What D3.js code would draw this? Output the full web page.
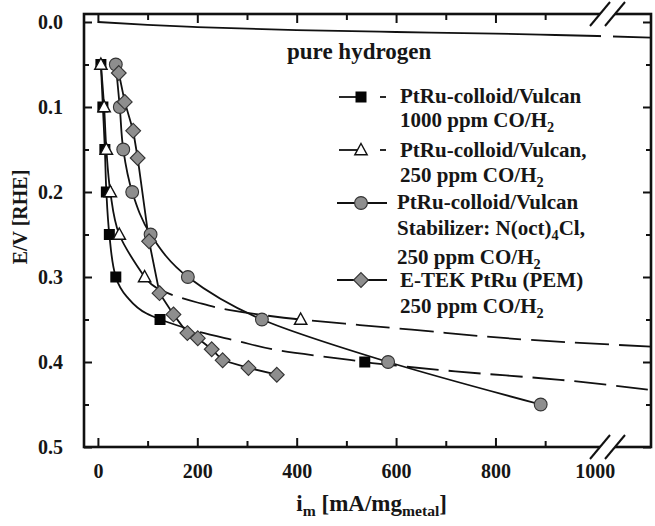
<!DOCTYPE html>
<html>
<head>
<meta charset="utf-8">
<script src="https://cdn.jsdelivr.net/npm/d3@7"></script>
<style>
body { margin: 0; background: #fff; }
svg text { font-family: "Liberation Serif", "Times New Roman", serif; font-weight: bold; fill: #161616; }
.tick line { stroke: #111; stroke-width: 2; }
</style>
</head>
<body>
<div id="chart"></div>
<script>
// i in mA/mg_metal, E in V vs RHE
var hydrogen = [[0, 0], [100, 0.0035], [200, 0.006], [400, 0.0095], [600, 0.0118], [800, 0.0137], [890, 0.0149], [1005, 0.0165], [1113, 0.0185]];

var co1000 = [[6, 0.05], [10, 0.10], [14, 0.15], [17, 0.20], [23, 0.25], [36, 0.30], [125, 0.35], [537, 0.40]];
// curve drawn through / beyond the 1000 ppm points (solid to 0.35, dashed after)
var co1000Fit = [[36, 0.30], [58, 0.323], [98, 0.343], [125, 0.35], [200, 0.364], [279, 0.375], [360, 0.386], [507, 0.3976], [537, 0.40], [719, 0.411], [930, 0.421], [1113, 0.433]];

var co250 = [[6, 0.05], [12.5, 0.10], [17, 0.15], [25, 0.20], [43, 0.25], [94, 0.30], [408, 0.35]];
var co250Fit = [[94, 0.30], [132, 0.317], [200, 0.33], [266, 0.339], [408, 0.35], [527, 0.3565], [632, 0.362], [870, 0.374], [1113, 0.382]];

var stabilized = [[36, 0.05], [44, 0.10], [51, 0.15], [69, 0.20], [106, 0.25], [181, 0.30], [330, 0.35], [584, 0.40], [891, 0.45]];

var etek = [[42, 0.06], [54, 0.094], [71, 0.128], [80, 0.16], [103, 0.258], [124, 0.319], [152, 0.344], [180, 0.366], [201, 0.372], [229, 0.385], [251, 0.398], [303, 0.407], [360, 0.415]];

var xTicks = [0, 200, 400, 600, 800, 1000];
var xMinor = [100, 300, 500, 700, 900];
var yTicks = [0.0, 0.1, 0.2, 0.3, 0.4, 0.5];
var yMinor = [0.05, 0.15, 0.25, 0.35, 0.45];

var legendLabels = [
	[["PtRu-colloid/Vulcan"], ["1000 ppm CO/H", "2"]],
	[["PtRu-colloid/Vulcan,"], ["250 ppm CO/H", "2"]],
	[["PtRu-colloid/Vulcan"], ["Stabilizer: N(oct)", "4", "Cl,"], ["250 ppm CO/H", "2"]],
	[["E-TEK PtRu (PEM)"], ["250 ppm CO/H", "2"]]
];

var W = 655, H = 526;
var pLeft = 84, pRight = 651, pTop = 14, pBottom = 447;

var svg = d3.select("#chart").append("svg")
	.attr("width", W)
	.attr("height", H);

var x = d3.scaleLinear().domain([-28, 1113]).range([pLeft, pRight]);
var y = d3.scaleLinear().domain([-0.0094, 0.5]).range([pTop, pBottom]);

// axes, ticks pointing inwards
function noDomain(g) { g.select(".domain").remove(); }

svg.append("g").attr("transform", "translate(0," + pBottom + ")")
	.call(d3.axisBottom(x).tickValues(xTicks).tickSize(-9).tickPadding(17).tickFormat(d3.format("d")))
	.call(noDomain)
	.call(function (g) {
		g.selectAll("text").attr("font-size", 20).attr("font-family", null);
		g.selectAll(".tick").filter(function (d) { return d == 1000; }).select("line").remove();
	});
svg.append("g").attr("transform", "translate(0," + pBottom + ")")
	.call(d3.axisBottom(x).tickValues(xMinor).tickSize(-6).tickFormat(""))
	.call(noDomain);
svg.append("g").attr("transform", "translate(0," + pTop + ")")
	.call(d3.axisTop(x).tickValues(xTicks.filter(function (d) { return d < 1000; })).tickSize(-9).tickFormat(""))
	.call(noDomain);
svg.append("g").attr("transform", "translate(0," + pTop + ")")
	.call(d3.axisTop(x).tickValues(xMinor).tickSize(-6).tickFormat(""))
	.call(noDomain);

svg.append("g").attr("transform", "translate(" + pLeft + ",0)")
	.call(d3.axisLeft(y).tickValues(yTicks).tickSize(-8).tickPadding(21).tickFormat(d3.format(".1f")))
	.call(noDomain)
	.call(function (g) { g.selectAll("text").attr("font-size", 20).attr("font-family", null); });
svg.append("g").attr("transform", "translate(" + pLeft + ",0)")
	.call(d3.axisLeft(y).tickValues(yMinor).tickSize(-5).tickFormat(""))
	.call(noDomain);
svg.append("g").attr("transform", "translate(" + pRight + ",0)")
	.call(d3.axisRight(y).tickValues(yTicks).tickSize(-8).tickFormat(""))
	.call(noDomain);
svg.append("g").attr("transform", "translate(" + pRight + ",0)")
	.call(d3.axisRight(y).tickValues(yMinor).tickSize(-5).tickFormat(""))
	.call(noDomain);

// frame
svg.append("rect")
	.attr("x", pLeft).attr("y", pTop)
	.attr("width", pRight - pLeft).attr("height", pBottom - pTop)
	.attr("fill", "none").attr("stroke", "#111").attr("stroke-width", 2.6);

// clip for the hydrogen line (gap at the axis break)
var defs = svg.append("defs");
var clip = defs.append("clipPath").attr("id", "hclip");
clip.append("rect").attr("x", pLeft).attr("y", pTop).attr("width", 601 - pLeft).attr("height", pBottom - pTop);
clip.append("rect").attr("x", 613).attr("y", pTop).attr("width", pRight - 613).attr("height", pBottom - pTop);

var lineX = d3.line().x(function (d) { return x(d[0]); }).y(function (d) { return y(d[1]); });
var smoothY = d3.line().x(function (d) { return x(d[0]); }).y(function (d) { return y(d[1]); }).curve(d3.curveMonotoneY);
var smoothX = d3.line().x(function (d) { return x(d[0]); }).y(function (d) { return y(d[1]); }).curve(d3.curveMonotoneX);

function addPath(d, gen, dash) {
	var p = svg.append("path")
		.attr("d", gen(d))
		.attr("fill", "none")
		.attr("stroke", "#111")
		.attr("stroke-width", 1.8);
	if (dash) p.attr("stroke-dasharray", dash);
	return p;
}

addPath(hydrogen, smoothX).attr("clip-path", "url(#hclip)");

// 1000 ppm: solid through the points down to 0.35, then dashed
addPath(co1000.slice(0, 6).concat(co1000Fit.slice(1, 4)), smoothY);
addPath(co1000Fit.slice(3), smoothY, "32,10");

// 250 ppm
addPath(co250.slice(0, 6), smoothY);
addPath(co250Fit, smoothY, "34,10");

addPath(stabilized, smoothY);
addPath(etek, lineX);

// markers
function marker(g, type, cx, cy) {
	if (type == "square") {
		g.append("rect").attr("x", cx - 5.5).attr("y", cy - 5.5).attr("width", 11).attr("height", 11)
			.attr("fill", "#050505");
	} else if (type == "triangle") {
		g.append("path").attr("d", "M" + cx + "," + (cy - 6.5) + "L" + (cx + 6.2) + "," + (cy + 4.8) + "L" + (cx - 6.2) + "," + (cy + 4.8) + "Z")
			.attr("fill", "#fff").attr("stroke", "#111").attr("stroke-width", 1.4);
	} else if (type == "circle") {
		g.append("circle").attr("cx", cx).attr("cy", cy).attr("r", 6.4)
			.attr("fill", "#8e8e8e").attr("stroke", "#333").attr("stroke-width", 1.1);
	} else {
		g.append("path").attr("d", "M" + cx + "," + (cy - 7.4) + "L" + (cx + 7.4) + "," + cy + "L" + cx + "," + (cy + 7.4) + "L" + (cx - 7.4) + "," + cy + "Z")
			.attr("fill", "#8e8e8e").attr("stroke", "#333").attr("stroke-width", 1.1);
	}
}

var series = [[co1000, "square"], [co250, "triangle"], [stabilized, "circle"], [etek, "diamond"]];
series.forEach(function (s) {
	var g = svg.append("g");
	s[0].forEach(function (d) { marker(g, s[1], x(d[0]), y(d[1])); });
});

// axis break marks
[pTop, pBottom].forEach(function (yy) {
	svg.append("path")
		.attr("d", "M" + (600 - 3) + "," + (yy + 3.5) + "L" + (600 + 3) + "," + (yy - 3.5) + "L" + (615 + 3) + "," + (yy - 3.5) + "L" + (615 - 3) + "," + (yy + 3.5) + "Z")
		.attr("fill", "#fff");
	[600, 615].forEach(function (xx) {
		svg.append("line")
			.attr("x1", xx - 10).attr("y1", yy + 12)
			.attr("x2", xx + 10).attr("y2", yy - 12)
			.attr("stroke", "#111").attr("stroke-width", 2);
	});
});

// text with subscripts
function richText(xx, yy, parts, size) {
	var t = svg.append("text").attr("x", xx).attr("y", yy).attr("font-size", size);
	parts.forEach(function (p, k) {
		if (k % 2 == 0) {
			t.append("tspan").attr("dy", k == 0 ? 0 : -5).text(p);
		} else {
			t.append("tspan").attr("dy", 5).attr("font-size", size * 0.68).text(p);
		}
	});
	return t;
}

svg.append("text").attr("x", 287).attr("y", 59).attr("font-size", 23).text("pure hydrogen");

// legend
var legendRows = [
	{ type: "square", y: 97, lines: [103, 127], dash: true },
	{ type: "triangle", y: 150, lines: [157, 182], dash: true },
	{ type: "circle", y: 203, lines: [209, 235, 264], dash: false },
	{ type: "diamond", y: 280, lines: [287, 313], dash: false }
];
var lg = svg.append("g");
legendRows.forEach(function (r, k) {
	if (r.dash) {
		lg.append("line").attr("x1", 339).attr("x2", 362).attr("y1", r.y).attr("y2", r.y)
			.attr("stroke", "#111").attr("stroke-width", 1.8);
		lg.append("line").attr("x1", 380).attr("x2", 386).attr("y1", r.y).attr("y2", r.y)
			.attr("stroke", "#111").attr("stroke-width", 1.8);
	} else {
		lg.append("line").attr("x1", 337).attr("x2", 387).attr("y1", r.y).attr("y2", r.y)
			.attr("stroke", "#111").attr("stroke-width", 1.8);
	}
	marker(lg, r.type, 361, r.y);
	legendLabels[k].forEach(function (parts, j) {
		richText(k == 2 ? 397 : 400, r.lines[j], parts, 21);
	});
});

// axis titles
richText(447, 511, ["i", "m", " [mA/mg", "metal", "]"], 23).attr("text-anchor", "end");
svg.append("text")
	.attr("transform", "translate(27,217) rotate(-90)")
	.attr("text-anchor", "middle")
	.attr("font-size", 20)
	.text("E/V [RHE]");
</script>
</body>
</html>
